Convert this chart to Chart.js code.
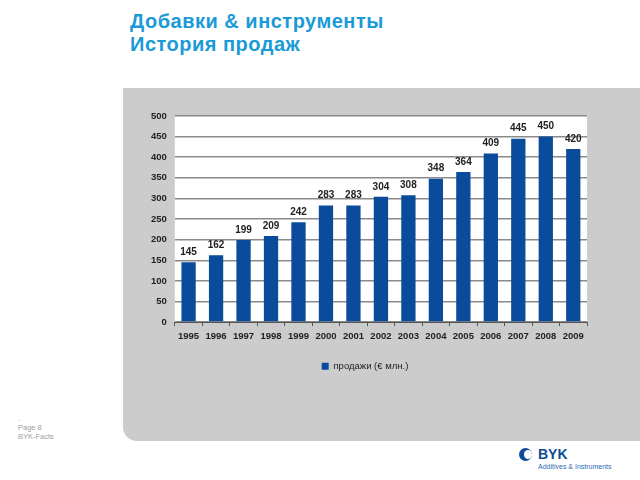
<!DOCTYPE html>
<html>
<head>
<meta charset="utf-8">
<script src="https://cdn.jsdelivr.net/npm/chart.js@4/dist/chart.umd.min.js"></script>
<style>
  body { margin: 0; width: 640px; height: 480px; position: relative; background: #fff; font-family: "Liberation Sans", Arial, sans-serif; overflow: hidden; }
  .title { position: absolute; left: 130px; top: 10px; color: #1b9ad8; font-weight: bold; font-size: 20px; letter-spacing: 0.5px; line-height: 23px; }
  .panel { position: absolute; left: 123px; top: 88px; width: 517px; height: 353px; background: #cccccc; border-bottom-left-radius: 14px; }
  .chartbox { position: absolute; left: 123px; top: 88px; width: 517px; height: 353px; }
  .footer { position: absolute; left: 18px; top: 414px; color: #a0a0a0; font-size: 7.5px; line-height: 9px; }
  .logo { position: absolute; left: 519px; top: 446px; }
  .logo .mark { position: absolute; left: 0; top: 2px; width: 13px; height: 13px; border-radius: 50%; background: #0d4c96; }
  .logo .mark::after { content: ""; position: absolute; left: 5px; top: 2px; width: 8px; height: 9px; border-radius: 50%; background: #fff; }
  .logo .byk { position: absolute; left: 19px; top: 0; color: #0d4c96; font-weight: bold; font-size: 14px; }
  .logo .sub { position: absolute; left: 19px; top: 17px; color: #2a6db5; font-size: 7px; white-space: nowrap; }
</style>
</head>
<body>
<div class="title">Добавки &amp; инструменты<br>История продаж</div>
<div class="panel"></div>
<div class="chartbox"><canvas id="salesChart" width="517" height="353"></canvas></div>
<div class="footer">.<br>Page 8<br>BYK-Facts</div>
<div class="logo"><div class="mark"></div><div class="byk">BYK</div><div class="sub">Additives &amp; Instruments</div></div>
<script>
// years and sales values (EUR mln)
const years = ["1995", "1996", "1997", "1998", "1999", "2000", "2001", "2002", "2003", "2004", "2005", "2006", "2007", "2008", "2009"];
const sales = [145, 162, 199, 209, 242, 283, 283, 304, 308, 348, 364, 409, 445, 450, 420];
const seriesName = "продажи (€ млн.)";

// white plot background
const plotBg = {
  id: "plotBg",
  beforeDraw(chart) {
    const a = chart.chartArea, ctx = chart.ctx;
    ctx.save();
    ctx.fillStyle = "#ffffff";
    ctx.fillRect(a.left, a.top, a.right - a.left, a.bottom - a.top);
    ctx.restore();
  }
};

// value labels above bars
const barLabels = {
  id: "barLabels",
  afterDatasetsDraw(chart) {
    const ctx = chart.ctx;
    const meta = chart.getDatasetMeta(0);
    ctx.save();
    ctx.font = "bold 10px 'Liberation Sans', Arial, sans-serif";
    ctx.fillStyle = "#222";
    ctx.textAlign = "center";
    ctx.textBaseline = "bottom";
    meta.data.forEach((bar, i) => {
      ctx.fillText(sales[i], bar.x, bar.y - 5);
    });
    ctx.restore();
  }
};

new Chart(document.getElementById("salesChart"), {
  type: "bar",
  data: {
    labels: years,
    datasets: [{
      label: seriesName,
      data: sales,
      backgroundColor: "#0b4b9b",
      barPercentage: 0.52,
      categoryPercentage: 1
    }]
  },
  options: {
    responsive: false,
    animation: false,
    layout: { padding: { left: 20, right: 53, top: 28, bottom: 60 } },
    plugins: {
      tooltip: { enabled: false },
      legend: {
        position: "bottom",
        labels: {
          boxWidth: 7, boxHeight: 7, padding: 14,
          color: "#222",
          font: { size: 9.5, family: "'Liberation Sans', Arial, sans-serif" }
        }
      }
    },
    scales: {
      x: {
        grid: { display: true, drawOnChartArea: false, offset: true, color: "#555", tickLength: 4 },
        border: { color: "#555", width: 1 },
        ticks: { color: "#222", font: { size: 9.5, weight: "bold", family: "'Liberation Sans', Arial, sans-serif" }, padding: 5, maxRotation: 0 }
      },
      y: {
        min: 0, max: 500,
        grid: { color: "#8a8a8a", lineWidth: 1.5, drawTicks: false },
        border: { display: false },
        ticks: { stepSize: 50, color: "#222", padding: 8, font: { size: 9.5, weight: "bold", family: "'Liberation Sans', Arial, sans-serif" } }
      }
    }
  },
  plugins: [plotBg, barLabels]
});
</script>
</body>
</html>
